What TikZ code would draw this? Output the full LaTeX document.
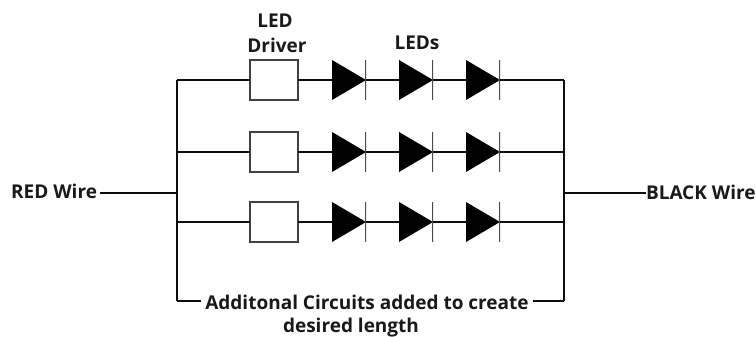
\documentclass[tikz,border=0pt]{standalone}
\usepackage{fontspec}
\setmainfont{Open Sans}
\begin{document}
\begin{tikzpicture}[x=1pt,y=-1pt,
  wire/.style={line width=2.6pt,color=black!95,line cap=butt},
  driverbox/.style={draw=black!75,line width=1.5pt,fill=white,minimum width=48pt,minimum height=40pt,inner sep=0pt,outer sep=0pt},
  diode/.style={minimum width=34pt,minimum height=40pt,inner sep=0pt,outer sep=0pt,
    path picture={
      \fill[black] (path picture bounding box.south west) -- (path picture bounding box.north west) -- (path picture bounding box.east) -- cycle;
      \draw[line width=3pt,black!70] (path picture bounding box.north east) -- (path picture bounding box.south east);
    }},
  lbl/.style={font=\bfseries\fontsize{19}{23}\selectfont,text=black!90,inner sep=0pt,outer sep=0pt,align=center}
]
\useasboundingbox (0,0) rectangle (756,337);
\fill[white] (0,0) rectangle (756,337);
\coordinate (bl) at (177,193);
\coordinate (br) at (564,193);
\coordinate (blTop) at (177,80);
\coordinate (brTop) at (564,80);
\coordinate (blBot) at (177,301);
\coordinate (brBot) at (564,301);
\draw[wire,line cap=square] (blTop) -- (blBot);
\draw[wire,line cap=square] (brTop) -- (brBot);
\foreach \r/\y in {1/80,2/152,3/222}{
  \node[driverbox] (b\r) at (274,\y) {};
  \node[diode] (d\r a) at (349,\y) {};
  \node[diode] (d\r b) at (416,\y) {};
  \node[diode] (d\r c) at (483,\y) {};
  \coordinate (jl\r) at (177,\y);
  \coordinate (jr\r) at (564,\y);
  \draw[wire] (jl\r) -- (b\r.west);
  \draw[wire] (b\r.east) -- (d\r a.west);
  \draw[wire] (d\r a.east) -- (d\r b.west);
  \draw[wire] (d\r b.east) -- (d\r c.west);
  \draw[wire] (d\r c.east) -- (jr\r);
}
\node[lbl,anchor=east] (red) at (97,191) {RED Wire};
\node[lbl,anchor=west] (black) at (646,192) {BLACK Wire};
\draw[wire] (red.east |- bl) ++(3,0) coordinate (redend) -- (bl);
\draw[wire] (br) -- (black.west |- br);
\node[lbl] (add) at (367,302) {Additonal Circuits added to create};
\node[lbl] (len) at (351,328) {desired length};
\draw[wire] (blBot) -- ([xshift=-4pt]add.west |- blBot);
\draw[wire] ([xshift=4pt]add.east |- brBot) -- (brBot);
\node[lbl] (t1) at (275,21) {LED};
\node[lbl] (t2) at (277,45) {Driver};
\node[lbl] (t3) at (417,43) {LEDs};
\end{tikzpicture}
\end{document}
